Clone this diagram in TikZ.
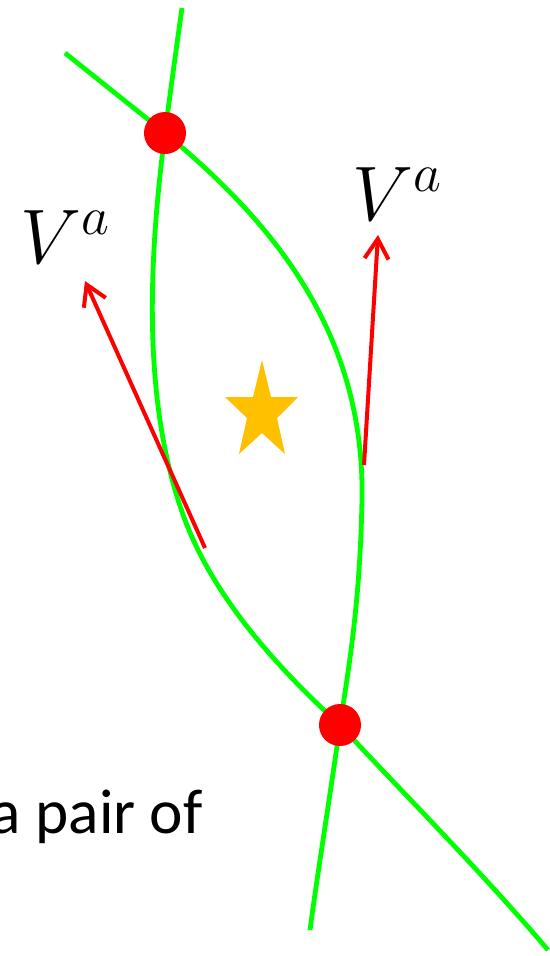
\documentclass[tikz,border=0pt]{standalone}
\usepackage{fix-cm}
\usepackage{fontspec}
\usetikzlibrary{arrows.meta}
\newfontfamily\carlito{Carlito}
\definecolor{lime}{HTML}{00FF00}
\definecolor{vred}{HTML}{FF0000}
\definecolor{gold}{HTML}{FFC000}
\pgfdeclarelayer{bg}
\pgfsetlayers{bg,main}

\begin{document}
\begin{tikzpicture}[x=0.025cm,y=-0.025cm,
  curve/.style={draw=lime,line width=0.12cm},
  vec/.style={draw=vred,line width=0.1cm,-{Straight Barb[length=0.5cm,width=0.6cm]}},
  dot/.style={circle,fill=vred,minimum size=1.05cm,inner sep=0pt},
  lbl/.style={font=\fontsize{55}{60}\selectfont,inner sep=0pt}]
\useasboundingbox (0,0) rectangle (549,956);
% crossing points
\node[dot] (top) at (165,133) {};
\node[dot] (bot) at (340,725) {};
% loose ends of the two curves
\coordinate (aS) at (182,8);
\coordinate (aE) at (548,950);
\coordinate (bS) at (65,53);
\coordinate (bE) at (310,930);
\begin{pgfonlayer}{bg}
\draw[curve] (aS) .. controls (176,50) and (170,95) .. (top.center)
  .. controls (150,250) and (140,400) .. (185,520)
  .. controls (215,600) and (280,670) .. (bot.center)
  .. controls (400,790) and (480,870) .. (aE);
\draw[curve] (bS) -- (top.center)
  .. controls (270,220) and (365,330) .. (362,500)
  .. controls (360,600) and (350,660) .. (bot.center)
  .. controls (328,810) and (318,870) .. (bE);
\end{pgfonlayer}
% tangent vectors
\coordinate (tailL) at (205,548);
\coordinate (tipL) at (85,281);
\coordinate (tailR) at (364,465);
\coordinate (tipR) at (378,235);
\draw[vec] (tailL) -- (tipL);
\draw[vec] (tailR) -- (tipR);
\node[lbl,anchor=base west] (vL) at (20,263) {$V^a$};
\node[lbl,anchor=base west] (vR) at (352,220) {$V^a$};
% star
\fill[gold] (262,360) -- (271,397) -- (298,397) -- (277,418) -- (285,454) -- (262,433)
  -- (239,454) -- (247,418) -- (225,397) -- (253,397) -- cycle;
\node[anchor=base east,inner sep=0pt,font=\carlito\fontsize{45}{54}\selectfont] (pair) at (203,833) {a pair of};
\end{tikzpicture}
\end{document}
